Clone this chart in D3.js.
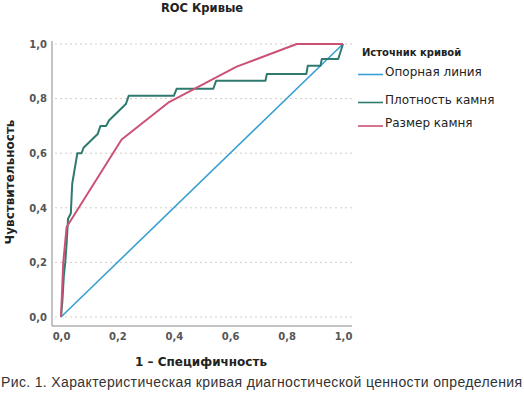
<!doctype html>
<html>
<head>
  <meta charset="utf-8">
  <script src="https://d3js.org/d3.v7.min.js"></script>
  <style>
    body {margin: 0; background: #fff;}
  </style>
</head>
<body>
  <svg id="chart" width="524" height="395" font-family="DejaVu Sans, sans-serif"></svg>
  <script>
    const width = 524, height = 395

    const yTicks = [0, 0.2, 0.4, 0.6, 0.8, 1.0]
    const xTicks = [0, 0.2, 0.4, 0.6, 0.8, 1.0]

    // reference line
    const refFpr = [0, 1]
    const refTpr = [0, 1]

    // stone density (step curve)
    const densFpr = [0, 0.005, 0.01, 0.015, 0.02, 0.025, 0.035, 0.038, 0.04, 0.058, 0.073, 0.08, 0.09, 0.11, 0.13, 0.14, 0.16, 0.17, 0.19, 0.21, 0.23, 0.24,
      0.40, 0.41, 0.54, 0.55, 0.725, 0.73, 0.87, 0.875, 0.92, 0.925, 0.983, 1.0]
    const densTpr = [0, 0.06, 0.15, 0.2, 0.27, 0.36, 0.38, 0.45, 0.49, 0.6, 0.6, 0.62, 0.63, 0.65, 0.67, 0.70, 0.70, 0.72, 0.74, 0.76, 0.78, 0.81,
      0.81, 0.836, 0.836, 0.865, 0.865, 0.89, 0.89, 0.92, 0.92, 0.945, 0.945, 1.0]

    // stone size
    const sizeFpr = [0, 0.008, 0.02, 0.215, 0.38, 0.623, 0.836, 1.0]
    const sizeTpr = [0, 0.2, 0.33, 0.65, 0.785, 0.917, 1.0, 1.0]

    const series = [
      {name: 'Опорная линия', fpr: refFpr, tpr: refTpr, color: '#3aa0d2', w: 1.6},
      {name: 'Плотность камня', fpr: densFpr, tpr: densTpr, color: '#2e7a6e', w: 2},
      {name: 'Размер камня', fpr: sizeFpr, tpr: sizeTpr, color: '#cc5275', w: 2}
    ]

    const x = d3.scaleLinear().domain([0, 1]).range([61, 343])
    const y = d3.scaleLinear().domain([0, 1]).range([317, 44])

    const svg = d3.select('#chart')

    // title
    svg.append('text').attr('x', 202).attr('y', 12).attr('text-anchor', 'middle')
      .attr('font-size', 11.5).attr('font-weight', 'bold').attr('fill', '#222').text('ROC Кривые')

    // grid
    svg.append('g').selectAll('line').data(yTicks).join('line')
      .attr('x1', 55).attr('x2', 354)
      .attr('y1', d => y(d)).attr('y2', d => y(d))
      .attr('stroke', '#d6ccc2').attr('stroke-width', 1).attr('stroke-dasharray', '2,3')

    // axes
    const fmt = d => d3.format('.1f')(d).replace('.', ',')
    const yAxis = d3.axisLeft(y).tickValues(yTicks).tickSize(0).tickPadding(5).tickFormat(fmt)
    const gy = svg.append('g').attr('transform', 'translate(52,0)').call(yAxis)
    gy.select('.domain').attr('d', 'M0,41V326').attr('stroke', '#888')

    const xAxis = d3.axisBottom(x).tickValues(xTicks).tickSize(0).tickPadding(7).tickFormat(fmt)
    const gx = svg.append('g').attr('transform', 'translate(0,326)').call(xAxis)
    gx.select('.domain').attr('d', 'M52,0H352').attr('stroke', '#888')

    svg.selectAll('.tick text').attr('font-family', 'DejaVu Sans').attr('font-size', 10)
      .attr('font-weight', 'bold').attr('fill', '#555')

    // axis titles
    svg.append('text').attr('x', 201).attr('y', 366).attr('text-anchor', 'middle')
      .attr('font-size', 12).attr('font-weight', 'bold').attr('fill', '#222').text('1 – Специфичность')
    svg.append('text').attr('transform', 'translate(14,182) rotate(-90)').attr('text-anchor', 'middle')
      .attr('font-size', 12).attr('font-weight', 'bold').attr('fill', '#222').text('Чувствительность')

    // curves
    const line = d3.line().x(d => x(d[0])).y(d => y(d[1]))
    svg.append('g').selectAll('path').data(series).join('path')
      .attr('d', s => line(d3.zip(s.fpr, s.tpr)))
      .attr('fill', 'none').attr('stroke', s => s.color).attr('stroke-width', s => s.w)
      .attr('stroke-linejoin', 'round')

    // legend
    const lg = svg.append('g')
    lg.append('text').attr('x', 362).attr('y', 56).attr('font-size', 10).attr('font-weight', 'bold')
      .attr('fill', '#222').text('Источник кривой')
    const item = lg.selectAll('g.item').data(series).join('g').attr('class', 'item')
      .attr('transform', (d, i) => `translate(0,${[74.5, 102.5, 126][i]})`)
    item.append('line').attr('x1', 358).attr('x2', 383).attr('stroke', d => d.color).attr('stroke-width', 1.6)
    item.append('text').attr('x', 385).attr('y', 1).attr('font-size', 12).attr('fill', '#222').text(d => d.name)

    // caption
    svg.append('text').attr('x', 1).attr('y', 387).attr('font-family', 'Liberation Sans, Arial, sans-serif')
      .attr('font-size', 14).attr('fill', '#333').attr('textLength', 521).attr('lengthAdjust', 'spacing')
      .text('Рис. 1. Характеристическая кривая диагностической ценности определения')
  </script>
</body>
</html>
